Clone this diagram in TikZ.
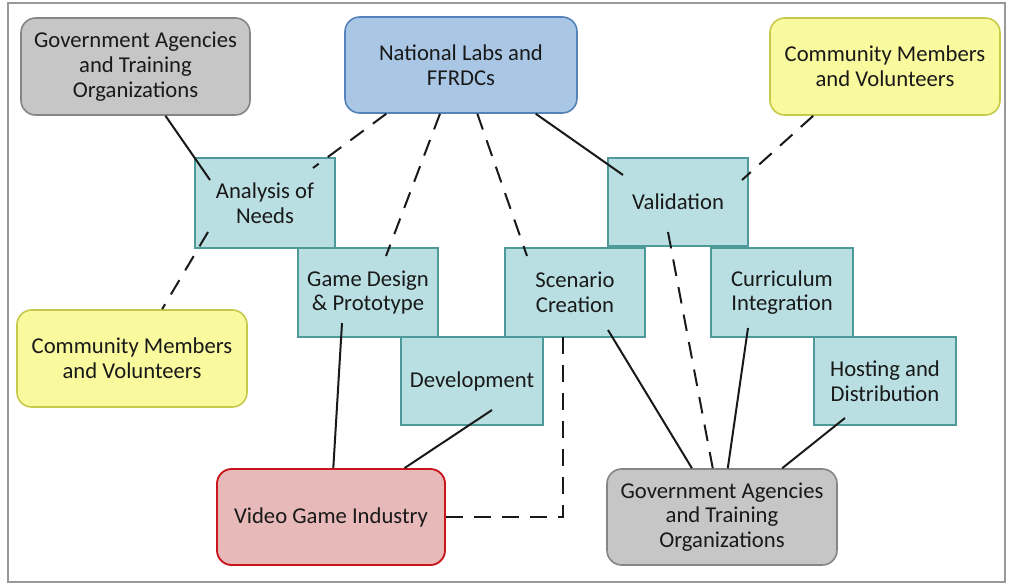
\documentclass[tikz,border=0pt]{standalone}
\usepackage{fontspec}
\setmainfont{Carlito}
\usetikzlibrary{calc}
\definecolor{grayfill}{HTML}{C6C6C6}
\definecolor{graydraw}{HTML}{858585}
\definecolor{bluefill}{HTML}{A9C6E5}
\definecolor{bluedraw}{HTML}{5582B8}
\definecolor{yelfill}{HTML}{F9F99E}
\definecolor{yeldraw}{HTML}{C7C94A}
\definecolor{redfill}{HTML}{E7BAB9}
\definecolor{reddraw}{HTML}{C8161D}
\definecolor{stagefill}{HTML}{B9DFE2}
\definecolor{stagedraw}{HTML}{4E9A9A}
\begin{document}
\begin{tikzpicture}[x=0.75pt,y=-0.75pt,
  every node/.style={font=\fontsize{17}{18.6}\selectfont, align=center, inner sep=0pt, line width=1.2pt, text=black!90},
  grayrole/.style={draw=graydraw, fill=grayfill, rounded corners=11pt},
  bluerole/.style={draw=bluedraw, fill=bluefill, rounded corners=11pt},
  yellowrole/.style={draw=yeldraw, fill=yelfill, rounded corners=11pt},
  redrole/.style={draw=reddraw, fill=redfill, rounded corners=11pt, line width=1.4pt},
  stage/.style={draw=stagedraw, fill=stagefill, line width=1.5pt},
  solidlink/.style={draw=black!90, line width=1.5pt},
  dashlink/.style={draw=black!90, line width=1.5pt, dash pattern=on 12.5pt off 8.5pt}]
\useasboundingbox (0,0) rectangle (1010,585);
\draw[black!40, line width=1pt] (8,3) rectangle (1005,582);

% role boxes
\node[grayrole, minimum width=171.75pt, minimum height=72.75pt] (govA) at (135.5,66.5) {Government Agencies\\and Training\\Organizations};
\node[bluerole, minimum width=174pt, minimum height=72pt] (nat) at (461,65) {National Labs and\\FFRDCs};
\node[yellowrole, minimum width=172.5pt, minimum height=72.75pt] (comA) at (885,66.5) {Community Members\\and Volunteers};
\node[yellowrole, minimum width=172.5pt, minimum height=72.75pt] (comB) at (132,358.5) {Community Members\\and Volunteers};
\node[redrole, minimum width=171pt, minimum height=72pt] (vid) at (331,517) {Video Game Industry};
\node[grayrole, minimum width=172.5pt, minimum height=72pt] (govB) at (722,517) {Government Agencies\\and Training\\Organizations};

% stage boxes
\node[stage, minimum width=105pt, minimum height=67.5pt] (ana) at (265,203) {Analysis of\\Needs};
\node[stage, minimum width=105pt, minimum height=66.5pt] (val) at (678,202) {Validation};
\node[stage, minimum width=105pt, minimum height=66.75pt] (game) at (368,292.5) {Game Design\\\& Prototype};
\node[stage, minimum width=105pt, minimum height=66.75pt] (scen) at (575,292.5) {Scenario\\Creation};
\node[stage, minimum width=106.5pt, minimum height=66.75pt] (curr) at (782,292.5) {Curriculum\\Integration};
\node[stage, minimum width=106.5pt, minimum height=66pt] (dev) at (472,381) {Development};
\node[stage, minimum width=106.5pt, minimum height=66pt] (host) at (885,381) {Hosting and\\Distribution};

% connector end points inside boxes
\coordinate (anaIn) at (210,180);
\coordinate (anaTop) at (313,168);
\coordinate (anaBot) at (208,232);
\coordinate (valIn) at (623,175);
\coordinate (valTop) at (742,180);
\coordinate (valBot) at (668,232);
\coordinate (gameTop) at (386,256);
\coordinate (gameBot) at (342,323);
\coordinate (scenTop) at (527,256);
\coordinate (scenBot) at (563,328);
\coordinate (scenIn) at (608,330);
\coordinate (currBot) at (748,328);
\coordinate (devBot) at (492,410);
\coordinate (hostBot) at (845,418);
\coordinate (elbow) at (563,517);

% connectors
\draw[solidlink] ($(govA.south west)!0.63!(govA.south east)$) -- (anaIn);
\draw[dashlink] ($(nat.south west)!0.18!(nat.south east)$) -- (anaTop);
\draw[dashlink] ($(nat.south west)!0.41!(nat.south east)$) -- (gameTop);
\draw[dashlink] ($(nat.south west)!0.57!(nat.south east)$) -- (scenTop);
\draw[solidlink] ($(nat.south west)!0.82!(nat.south east)$) -- (valIn);
\draw[dashlink] ($(comA.south west)!0.19!(comA.south east)$) -- (valTop);
\draw[dashlink] (anaBot) -- ($(comB.north west)!0.63!(comB.north east)$);
\draw[solidlink] (gameBot) -- ($(vid.north west)!0.51!(vid.north east)$);
\draw[solidlink] (devBot) -- ($(vid.north west)!0.82!(vid.north east)$);
\draw[dashlink] (vid.east) -- (elbow) -- (scenBot);
\draw[solidlink] (scenIn) -- ($(govB.north west)!0.37!(govB.north east)$);
\draw[dashlink] (valBot) -- ($(govB.north west)!0.46!(govB.north east)$);
\draw[solidlink] (currBot) -- ($(govB.north west)!0.525!(govB.north east)$);
\draw[solidlink] (hostBot) -- ($(govB.north west)!0.76!(govB.north east)$);
\end{tikzpicture}
\end{document}
